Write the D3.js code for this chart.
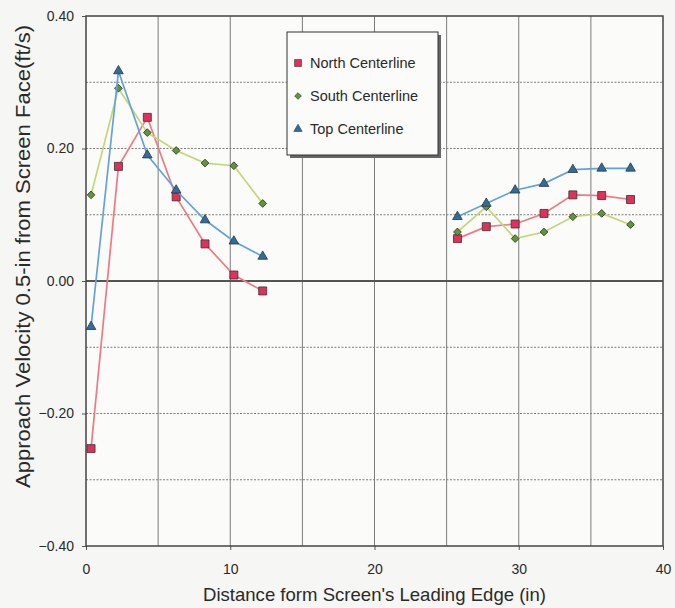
<!DOCTYPE html>
<html>
<head>
<meta charset="utf-8">
<script src="https://cdn.jsdelivr.net/npm/d3@7"></script>
<style>
  html, body { margin: 0; padding: 0; background: #f6f6f4; }
  svg { display: block; }
  text { font-family: "Liberation Sans", Arial, sans-serif; fill: #2a2a2a; }
</style>
</head>
<body>
<svg id="chart" width="675" height="608"></svg>
<script>
// Distance from the screen's leading edge (in)
const xLeft = [0.35, 2.25, 4.25, 6.25, 8.25, 10.25, 12.25];
const xRight = [25.75, 27.75, 29.75, 31.75, 33.75, 35.75, 37.75];

// Approach velocity 0.5 in from the screen face (ft/s)
const northLeft = [-0.253, 0.173, 0.247, 0.127, 0.056, 0.009, -0.015];
const northRight = [0.064, 0.082, 0.086, 0.102, 0.130, 0.129, 0.123];
const southLeft = [0.130, 0.291, 0.224, 0.197, 0.178, 0.174, 0.117];
const southRight = [0.074, 0.112, 0.064, 0.074, 0.097, 0.102, 0.085];
const topLeft = [-0.069, 0.317, 0.190, 0.137, 0.092, 0.060, 0.037];
const topRight = [0.097, 0.117, 0.137, 0.147, 0.168, 0.170, 0.170];

const xTicks = [0, 10, 20, 30, 40];
const yTicks = [-0.40, -0.20, 0.00, 0.20, 0.40];
const xGrid = [5, 10, 15, 20, 25, 30, 35];
const yGrid = [-0.3, -0.2, -0.1, 0.1, 0.2, 0.3];

const seriesNames = ["North Centerline", "South Centerline", "Top Centerline"];

const series = [
  { name: seriesNames[0], shape: d3.symbolSquare, size: 64, rot: 0, fill: "#e0305c", line: "#f07a82",
    groups: [[xLeft, northLeft], [xRight, northRight]] },
  { name: seriesNames[1], shape: d3.symbolSquare, size: 30, rot: 45, fill: "#5f9638", line: "#c2d775",
    groups: [[xLeft, southLeft], [xRight, southRight]] },
  { name: seriesNames[2], shape: d3.symbolTriangle, size: 40, rot: 0, fill: "#2c6f9e", line: "#62a3dc",
    groups: [[xLeft, topLeft], [xRight, topRight]] }
];

const svg = d3.select("#chart");
const m = { left: 86, top: 16, right: 663, bottom: 546 };

const x = d3.scaleLinear().domain([0, 40]).range([m.left, m.right]);
const y = d3.scaleLinear().domain([-0.4, 0.4]).range([m.bottom, m.top]);

// plot background
svg.append("rect")
  .attr("x", m.left).attr("y", m.top)
  .attr("width", m.right - m.left).attr("height", m.bottom - m.top)
  .attr("fill", "#fbfbfa");

// grid
svg.append("g").selectAll("line").data(xGrid).join("line")
  .attr("x1", d => x(d)).attr("x2", d => x(d))
  .attr("y1", m.top).attr("y2", m.bottom)
  .attr("stroke", "#7c7c7c").attr("stroke-width", 1);

svg.append("g").selectAll("line").data(yGrid).join("line")
  .attr("x1", m.left).attr("x2", m.right)
  .attr("y1", d => y(d)).attr("y2", d => y(d))
  .attr("stroke", "#7c7c7c").attr("stroke-width", 1)
  .attr("stroke-dasharray", "2,1.5");

// zero line
svg.append("line")
  .attr("x1", m.left).attr("x2", m.right)
  .attr("y1", y(0)).attr("y2", y(0))
  .attr("stroke", "#555").attr("stroke-width", 2);

// axes
const xAxis = d3.axisBottom(x).tickValues(xTicks).tickFormat(d3.format("d")).tickSize(4).tickPadding(14);
const yAxis = d3.axisLeft(y).tickValues(yTicks).tickFormat(d3.format(".2f")).tickSize(4).tickPadding(8);

const gx = svg.append("g").attr("transform", `translate(0,${m.bottom})`).call(xAxis);
const gy = svg.append("g").attr("transform", `translate(${m.left},0)`).call(yAxis);
[gx, gy].forEach(g => {
  g.select(".domain").remove();
  g.selectAll(".tick line").attr("stroke", "#555");
  g.selectAll("text").style("font-size", "14px").attr("fill", "#2a2a2a");
});

// plot frame
svg.append("rect")
  .attr("x", m.left).attr("y", m.top)
  .attr("width", m.right - m.left).attr("height", m.bottom - m.top)
  .attr("fill", "none").attr("stroke", "#444").attr("stroke-width", 1.5);

// series lines and markers
const line = d3.line().x(d => x(d[0])).y(d => y(d[1]));
series.forEach(s => {
  const g = svg.append("g");
  s.groups.forEach(([xs, ys]) => {
    const pts = xs.map((v, i) => [v, ys[i]]);
    g.append("path").datum(pts).attr("d", line)
      .attr("fill", "none").attr("stroke", s.line).attr("stroke-width", 1.7);
  });
  s.groups.forEach(([xs, ys]) => {
    const pts = xs.map((v, i) => [v, ys[i]]);
    g.selectAll(null).data(pts).join("path")
      .attr("transform", d => `translate(${x(d[0])},${y(d[1])}) rotate(${s.rot})`)
      .attr("d", d3.symbol().type(s.shape).size(s.size))
      .attr("fill", s.fill).attr("stroke", "#333").attr("stroke-width", 0.8);
  });
});

// legend
const lg = svg.append("g").attr("transform", "translate(287,32)");
lg.append("rect").attr("x", 3).attr("y", 3).attr("width", 151).attr("height", 123)
  .attr("fill", "#666");
lg.append("rect").attr("width", 151).attr("height", 123)
  .attr("fill", "#fbfbfa").attr("stroke", "#333").attr("stroke-width", 1);
series.forEach((s, i) => {
  const yy = 31 + i * 33;
  lg.append("path").attr("transform", `translate(11,${yy}) rotate(${s.rot})`)
    .attr("d", d3.symbol().type(s.shape).size(s.size * 0.75))
    .attr("fill", s.fill).attr("stroke", "#333").attr("stroke-width", 0.6);
  lg.append("text").attr("x", 23).attr("y", yy + 5)
    .style("font-size", "14.5px").text(s.name);
});

// axis titles
svg.append("text")
  .attr("x", 203).attr("y", 601)
  .attr("textLength", 343).attr("lengthAdjust", "spacingAndGlyphs")
  .style("font-size", "19px")
  .text("Distance form Screen's Leading Edge (in)");

svg.append("text")
  .attr("transform", "translate(30,488) rotate(-90)")
  .attr("textLength", 463).attr("lengthAdjust", "spacingAndGlyphs")
  .style("font-size", "20px")
  .text("Approach Velocity 0.5-in from Screen Face(ft/s)");
</script>
</body>
</html>
